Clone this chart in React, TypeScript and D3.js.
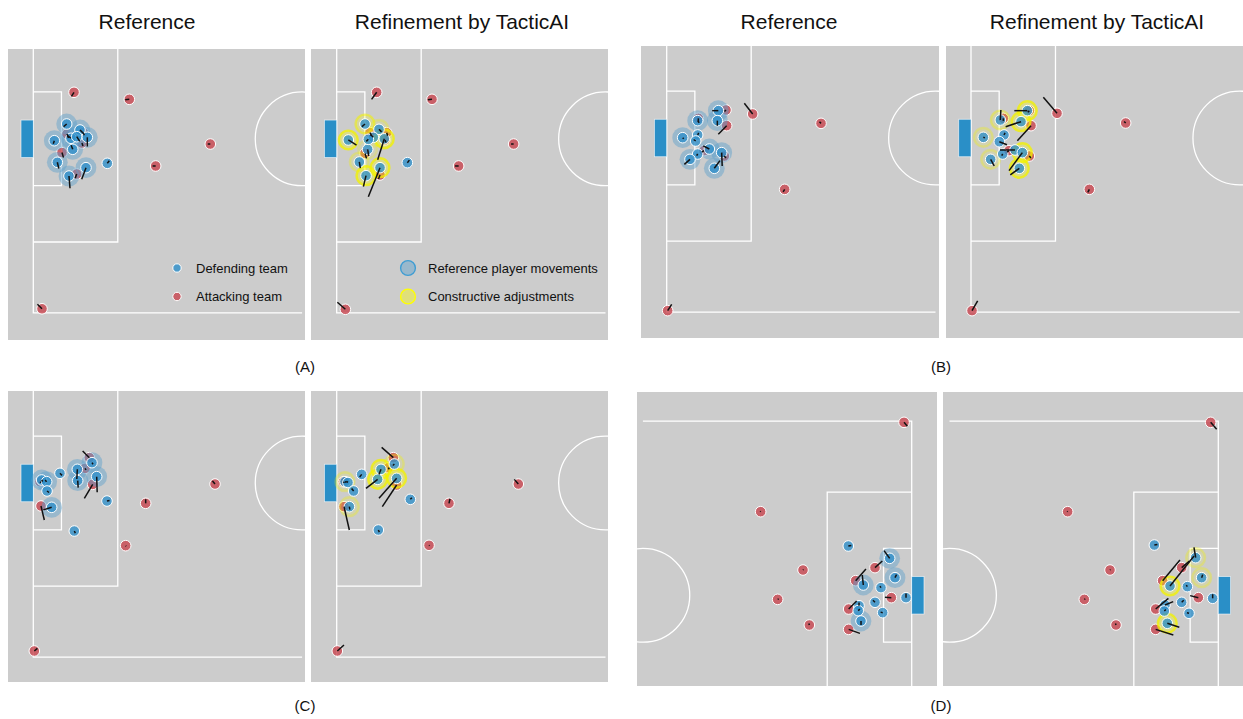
import React, { useEffect, useRef } from 'react';
import * as d3 from 'd3';

type Row = number[];

// Player rows: [metres from goal line, metres from goal centre towards the visible touchline, move dx, move dy, halo]
// halo: 1 = reference movement ring (blue); in TacticAI panels the value is the strength of the yellow ring.
const attackARef: Row[] = [
  [7.95, -9.08, -0.5, 0.8], [18.75, -7.71, -0.8, 0.1], [34.57, 1.02, -0.5, 0], [23.9, 5.31, -0.6, 0],
  [1.7, 33.2, -0.9, -0.9], [6.58, -0.94, 0.3, 0.8], [5.6, 2.68, 0.3, 1.0], [8.48, 6.88, -0.3, 0.8],
  [9.5, 0.82, 0.2, 0.6], [9.76, -1.2, 0.2, 0.5],
];
const defendARef: Row[] = [
  [6.52, -2.89, -0.6, 0.5, 1], [4.1, 0.37, -0.2, 0.6, 1], [9.12, -1.72, 0.6, 0.6, 1], [7.36, -0.1, -0.6, -0.5, 1],
  [8.48, -0.41, 0.6, 0.9, 1], [10.55, -0.29, 0, 1.8, 1], [7.7, 2.05, -0.3, -0.8, 1], [4.69, 4.59, 0.3, 1.2, 1],
  [6.97, 7.27, 0.2, 2.4, 1], [10.29, 5.64, -0.84, 2.27, 1], [14.45, 4.79, 0.4, -0.5, 0],
];
const attackATac: Row[] = [
  [7.81, -9.08, -1.0, 1.37], [18.61, -7.71, -0.8, 0.1], [34.56, 1.02, -0.5, 0], [23.82, 5.31, -0.7, 0],
  [1.69, 33.3, -1.56, -1.37], [6.5, -1.2, 0.3, 0.6], [9.76, -1.2, 0.2, 0.6], [9.43, 0.23, 0.2, 0.5],
  [5.53, 2.84, 0.3, 1.0], [8.46, 7.07, -0.3, 0.8],
];
const defendATac: Row[] = [
  [5.53, -2.89, -0.6, 0.5, 0.7], [2.27, 0.23, 1.6, 1.0, 1], [8.26, -1.85, 0.5, 0.5, 0.4], [7.15, -0.29, -0.5, -0.5, 0.3],
  [9.3, 0, -1.3, 4.1, 1], [6.05, 2.06, 0.2, 1.3, 0.3], [4.42, 4.53, 0.2, 1.2, 0.4], [5.72, 7.2, -0.5, 2.15, 1],
  [8.46, 5.64, -2.28, 5.66, 1], [13.8, 4.66, 0.4, -0.5, 0], [6.18, 0.1, -0.4, 0.4, 0],
];

const attackBRef: Row[] = [
  [16.79, -4.69, -1.63, -2.08], [30.14, -2.86, -0.3, -0.3], [23.04, 10.03, -0.3, 0.5], [0.19, 33.72, 0.78, -1.24],
  [11.58, -5.47, -0.3, 0.3], [11.71, -2.41, -1.63, 1.69], [6.18, -3.84, 0, 0.5], [7.29, 2.47, -0.4, 0.3],
  [11.26, 3.52, 0.3, 0.4],
];
const defendBRef: Row[] = [
  [10.08, -5.34, -1.2, 0, 1], [9.89, -3.39, 0, 1.0, 1], [6.05, -3.39, 0.3, 0.4, 1], [3.12, -0.06, 0.2, 0.2, 1],
  [6.05, -0.59, 0.2, -0.4, 0], [5.66, 0.59, -0.4, -0.3, 0], [8.33, 2.15, -1.2, -0.6, 1], [6.05, 3.13, -0.2, 0.3, 0],
  [4.55, 4.17, -1.1, 0.98, 1], [10.74, 2.86, 0.1, 2.6, 1], [9.3, 5.92, 1.1, -1.5, 1],
];
const attackBTac: Row[] = [
  [16.8, -4.82, -2.67, -3.13], [30.21, -2.93, -0.3, -0.3], [23.11, 10.03, -0.3, 0.6], [0.2, 33.72, 1.1, -1.89],
  [11.39, -5.34, -0.3, 0.3], [11.72, -2.41, -2.67, 2.93], [6.31, -3.84, 0, 0.5], [7.42, 2.47, -0.4, 0.3],
  [11.39, 3.52, 0.3, 0.4],
];
const defendBTac: Row[] = [
  [11.0, -5.34, -2.54, 0, 1], [9.77, -3.19, -3.0, 0.98, 1], [5.73, -3.52, 0.1, -1.95, 0.5], [2.41, -0.13, 0.3, 0.1, 0.4],
  [6.45, -0.59, 0.2, -0.4, 0], [5.53, 0.72, 1.5, 0.6, 0], [8.59, 2.34, -2.93, 0, 0], [6.19, 3.13, -0.2, 0.3, 0],
  [3.84, 4.17, 0.7, 1.3, 0.4], [10.03, 2.86, -2.6, 3.52, 1], [9.44, 5.92, -1.76, 1.3, 1],
];

const attackCRef: Row[] = [
  [35.49, 0.2, -0.5, -0.6], [21.95, 3.97, 0, -0.8], [18.04, 12.24, 0.1, 0.1], [0.2, 32.81, 0.6, -0.5],
  [1.5, 4.49, 0.65, 2.73], [1.31, -0.26, 0.2, 0.2], [10.94, -4.95, -1.3, -1.3], [10.1, -2.86, 0.2, 0.3],
  [11.6, 0.26, -1.63, 2.73],
];
const defendCRef: Row[] = [
  [1.63, -0.59, 0.2, 0.3, 1], [2.61, -0.26, -0.3, -0.3, 1], [2.68, 1.56, 0.4, 0.3, 0], [5.21, -1.89, 0.4, 0.4, 0],
  [3.59, 4.75, -1.63, 0.5, 1], [8.6, -2.67, -0.1, 1.9, 1], [8.67, -0.46, 0.1, 1.37, 1], [11.46, -3.97, 0.2, 0.3, 1],
  [12.38, -1.24, 0.1, 3.06, 1], [14.39, 3.52, 0.5, -0.1, 0], [8.01, 9.38, 0.2, 0.4, 0],
];
const attackCTac: Row[] = [
  [35.47, 0.2, -0.78, -0.91], [21.93, 3.97, 0.2, -0.9], [18.03, 12.17, 0.1, 0.1], [0.12, 32.81, 1.3, -1.17],
  [1.43, 4.62, 1.04, 4.56], [1.31, -0.26, 0.2, 0.2], [11.06, -4.95, -2.28, -2.0], [10.08, -2.99, 0.2, 0.3],
  [11.71, 0.39, -2.8, 4.23],
];
const defendCTac: Row[] = [
  [1.62, -0.26, 0.3, 0.1, 0.4], [2.2, -0.1, -0.3, -0.2, 0], [3.31, 1.56, -0.4, -0.5, 0], [4.88, -1.69, -0.4, 0.5, 0],
  [2.47, 4.62, 0.1, 0.6, 0.4], [8.65, -2.67, -0.4, 1.0, 1], [8.0, -0.72, -2.28, 1.76, 1], [11.26, -3.71, -0.3, 0.3, 0.4],
  [11.71, -0.91, -3.45, 3.9, 1], [14.38, 3.19, 0.3, -0.3, 0], [8.13, 9.18, 0.2, 0.4, 0],
];

const attackDRef: Row[] = [
  [1.5, 33.78, -0.65, -0.78], [29.5, 16.33, 0.1, 0.1], [21.23, 4.94, -0.1, 0.1], [26.18, -0.79, -0.2, 0.1],
  [19.99, -5.8, 0.1, 0.3], [7.17, 5.4, -1.43, 1.3], [10.94, 2.86, -2.0, 2.28], [3.98, -0.46, 1.24, 0.1],
  [12.31, -2.68, -1.56, 1.56], [12.31, -6.65, -2.2, -0.78],
];
const defendDRef: Row[] = [
  [12.38, 9.63, -0.6, 0.1, 0], [4.3, 7.22, 1.1, 1.5, 1], [3.26, 3.44, -0.3, 0.6, 1], [9.45, 2.01, 0.2, 1.95, 1],
  [6.0, 1.49, 0.2, 0.3, 0], [1.11, -0.46, 0, 0.8, 0], [7.17, -1.37, 0.4, 0.4, 0], [10.29, -2.03, 0, 0.6, 0],
  [10.45, -3.0, -0.3, 0.3, 0], [5.67, -3.39, 0.4, 0.1, 0], [9.9, -5.02, 0, -0.8, 1],
];
const attackDTac: Row[] = [
  [1.49, 33.78, -1.17, -1.37], [29.42, 16.33, 0.1, 0.1], [21.15, 4.94, -0.1, 0.1], [26.17, -0.79, -0.2, 0.1],
  [19.98, -5.8, 0.1, 0.3], [7.15, 5.4, -1.5, 1.3], [10.87, 2.86, -3.38, 4.04], [3.9, -0.46, 1.6, 0.4],
  [12.23, -2.68, -2.48, 2.08], [12.23, -6.65, -3.45, -1.11],
];
const defendDTac: Row[] = [
  [12.49, 9.82, -0.6, 0.1, 0], [4.42, 7.35, 0.33, 2.0, 0.4], [3.25, 3.44, -0.2, 0.6, 0.4], [9.43, 1.82, -4.69, 5.86, 1],
  [6.05, 1.69, 0.2, 0.3, 0], [1.1, -0.59, 0, 0.8, 0], [7.15, -1.37, -0.4, 0.4, 0], [10.41, -1.89, -1.6, 0.65, 0],
  [10.54, -3.07, -0.3, 0.3, 0], [5.72, -3.52, 0.4, 0.1, 0], [9.96, -5.47, -2.34, -0.78, 1],
];

const columnTitles = ['Reference', 'Refinement by TacticAI'];
const panelLabels = ['(A)', '(B)', '(C)', '(D)'];
const teamLegend = ['Defending team', 'Attacking team'];
const haloLegend = ['Reference player movements', 'Constructive adjustments'];

const PX_PER_M = 5.12;
const FONT = '"Liberation Sans", Arial, Helvetica, sans-serif';
const BLUE = '#2d8ec9';
const RED = '#c8454f';
const DOT_R = 5.3;

const panels = [
  { id: 'a0', box: [8, 49, 297, 291], goal: [33.3, 138.8], flip: false, tac: false, attack: attackARef, defend: defendARef },
  { id: 'a1', box: [311, 49, 297, 291], goal: [336.7, 138.8], flip: false, tac: true, attack: attackATac, defend: defendATac },
  { id: 'b0', box: [641, 46, 298, 292], goal: [666.7, 138], flip: false, tac: false, attack: attackBRef, defend: defendBRef },
  { id: 'b1', box: [946, 46, 297, 292], goal: [971, 138], flip: false, tac: true, attack: attackBTac, defend: defendBTac },
  { id: 'c0', box: [8, 391, 297, 291], goal: [33.3, 483], flip: false, tac: false, attack: attackCRef, defend: defendCRef },
  { id: 'c1', box: [311, 391, 297, 291], goal: [336.7, 483], flip: false, tac: true, attack: attackCTac, defend: defendCTac },
  { id: 'd0', box: [637, 392, 300, 294], goal: [911.7, 595.3], flip: true, tac: false, attack: attackDRef, defend: defendDRef },
  { id: 'd1', box: [943, 392, 300, 294], goal: [1218.3, 595.3], flip: true, tac: true, attack: attackDTac, defend: defendDTac },
];

const App = () => {
  const svgRef = useRef<SVGSVGElement>(null);

  useEffect(() => {
    const svg = d3.select(svgRef.current);
    svg.selectAll('*').remove();
    const defs = svg.append('defs');

    panels.forEach(p => {
      const [bx, by, bw, bh] = p.box;
      const dir = p.flip ? -1 : 1;
      const x = d3.scaleLinear().domain([0, 52.5]).range([p.goal[0], p.goal[0] + dir * 52.5 * PX_PER_M]);
      const y = d3.scaleLinear().domain([0, 34]).range([p.goal[1], p.goal[1] + dir * 34 * PX_PER_M]);
      const len = (m: number) => m * PX_PER_M;

      defs.append('clipPath').attr('id', `clip-${p.id}`)
        .append('rect').attr('x', bx).attr('y', by).attr('width', bw).attr('height', bh);

      const g = svg.append('g').attr('clip-path', `url(#clip-${p.id})`);
      g.append('rect').attr('x', bx).attr('y', by).attr('width', bw).attr('height', bh).attr('fill', '#cccccc');

      // pitch markings
      const line = d3.line<number[]>().x(d => x(d[0])).y(d => y(d[1]));
      const markings = [
        [[52.5, -34], [0, -34], [0, 34], [52.5, 34]],
        [[0, -20.16], [16.5, -20.16], [16.5, 20.16], [0, 20.16]],
        [[0, -9.16], [5.5, -9.16], [5.5, 9.16], [0, 9.16]],
      ];
      g.selectAll('.mark').data(markings).enter().append('path')
        .attr('d', d => line(d))
        .attr('fill', 'none').attr('stroke', 'white').attr('stroke-width', 1.3);
      g.append('circle').attr('cx', x(52.5)).attr('cy', y(0)).attr('r', len(9.15))
        .attr('fill', 'none').attr('stroke', 'white').attr('stroke-width', 1.3);

      // goal
      const gx = [x(-2.4), x(0)].sort((a, b) => a - b);
      const gy = [y(-3.66), y(3.66)].sort((a, b) => a - b);
      g.append('rect').attr('x', gx[0]).attr('y', gy[0]).attr('width', gx[1] - gx[0]).attr('height', gy[1] - gy[0])
        .attr('fill', '#2a8fc7').attr('stroke', 'rgba(255,255,255,0.7)').attr('stroke-width', 0.8);

      // attacking players sit under the halos
      g.selectAll('.att').data(p.attack).enter().append('circle')
        .attr('cx', d => x(d[0])).attr('cy', d => y(d[1])).attr('r', DOT_R)
        .attr('fill', RED).attr('fill-opacity', 0.8)
        .attr('stroke', 'white').attr('stroke-width', 1);

      // halos
      g.selectAll('.halo').data(p.defend.filter(d => d[4] > 0)).enter().append('circle')
        .attr('cx', d => x(d[0])).attr('cy', d => y(d[1]))
        .attr('r', p.tac ? 9.4 : 10.4)
        .attr('fill', p.tac ? '#ffff00' : '#5aa0cd')
        .attr('fill-opacity', d => (p.tac ? 0.32 * d[4] : 0.45))
        .attr('stroke', p.tac ? '#f2f200' : 'none')
        .attr('stroke-opacity', d => 0.75 * d[4])
        .attr('stroke-width', p.tac ? 2.4 : 0);

      g.selectAll('.def').data(p.defend).enter().append('circle')
        .attr('cx', d => x(d[0])).attr('cy', d => y(d[1])).attr('r', DOT_R)
        .attr('fill', BLUE).attr('fill-opacity', 0.78)
        .attr('stroke', 'white').attr('stroke-width', 1);

      // movement lines
      const all = [...p.attack, ...p.defend];
      g.selectAll('.mv').data(all).enter().append('line')
        .attr('x1', d => x(d[0])).attr('y1', d => y(d[1]))
        .attr('x2', d => x(d[0] + d[2])).attr('y2', d => y(d[1] + d[3]))
        .attr('stroke', '#111').attr('stroke-width', 1.5);
    });

    // column titles
    const titlePos = [[147, 0], [462, 1], [789, 0], [1097, 1]];
    svg.selectAll('.title').data(titlePos).enter().append('text')
      .attr('x', d => d[0]).attr('y', 29)
      .attr('text-anchor', 'middle')
      .style('font-family', FONT).style('font-size', '21px').style('fill', '#111')
      .text(d => columnTitles[d[1]]);

    const labelPos = [[305, 372], [941, 372], [305, 711], [941, 711]];
    svg.selectAll('.plabel').data(labelPos).enter().append('text')
      .attr('x', d => d[0]).attr('y', d => d[1])
      .attr('text-anchor', 'middle')
      .style('font-family', FONT).style('font-size', '15px').style('fill', '#111')
      .text((d, i) => panelLabels[i]);

    // legends
    const lg = svg.append('g');
    teamLegend.forEach((t, i) => {
      const cy = 268 + i * 28.5;
      lg.append('circle').attr('cx', 177).attr('cy', cy).attr('r', 4.2)
        .attr('fill', i === 0 ? BLUE : RED).attr('fill-opacity', 0.8)
        .attr('stroke', 'white').attr('stroke-width', 1);
      lg.append('text').attr('x', 196).attr('y', cy + 4.5)
        .style('font-family', FONT).style('font-size', '13px').style('fill', '#111').text(t);
    });
    haloLegend.forEach((t, i) => {
      const cy = 268 + i * 28.5;
      lg.append('circle').attr('cx', 408).attr('cy', cy).attr('r', 7.4)
        .attr('fill', i === 0 ? '#5aa0cd' : '#ffff00').attr('fill-opacity', i === 0 ? 0.45 : 0.4)
        .attr('stroke', i === 0 ? '#3f9dd3' : '#ffff00').attr('stroke-width', 1.4);
      lg.append('text').attr('x', 428).attr('y', cy + 4.5)
        .style('font-family', FONT).style('font-size', '13px').style('fill', '#111').text(t);
    });
  }, []);

  return (
    <svg
      ref={svgRef}
      width={1243}
      height={719}
      style={{ position: 'absolute', left: 0, top: 0, background: 'white' }}
    />
  );
};

export default App;
